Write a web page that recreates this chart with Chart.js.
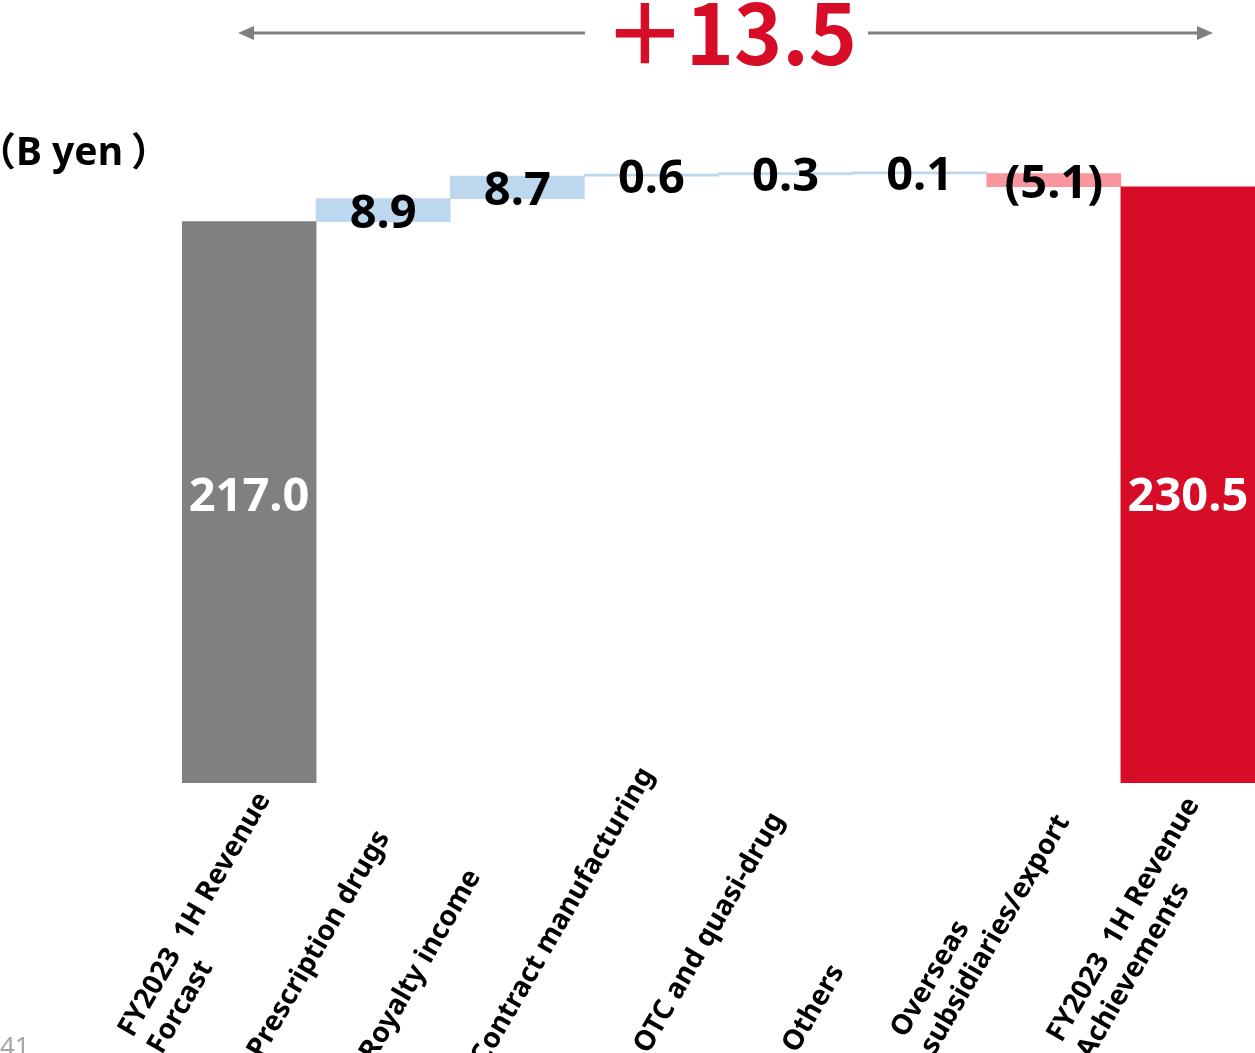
<!DOCTYPE html>
<html lang="en">
<head>
  <meta charset="UTF-8" />
  <title>Revenue bridge FY2023 1H</title>
  <meta name="viewport" content="width=device-width, initial-scale=1.0" />
  <script src="https://cdn.jsdelivr.net/npm/chart.js"></script>
  <style>
    body {
      margin: 0;
      padding: 0;
      background: #fff;
      overflow: hidden;
      font-family: 'Noto Sans', sans-serif;
      color: #000;
    }

    .lienzo {
      position: relative;
      width: 1255px;
      height: 1053px;
    }

    .lienzo canvas {
      position: absolute;
      left: 0;
      top: 0;
    }

    .unidad {
      position: absolute;
      left: -23px;
      top: 130px;
      font: 700 39px 'Noto Sans', 'Noto Sans CJK JP', sans-serif;
      line-height: 39px;
      white-space: pre;
    }

    .unidad .cierra {
      margin-left: 8px;
    }

    .pagina {
      position: absolute;
      left: 0;
      top: 1032px;
      font: 400 26px 'Noto Sans', sans-serif;
      line-height: 26px;
      color: #A6A6A6;
    }
  </style>
</head>
<body>
  <div class="lienzo">
    <canvas id="grafico" width="1255" height="1053"></canvas>
    <div class="unidad">（B yen<span class="cierra">）</span></div>
    <div class="pagina">41</div>
  </div>

  <script>
    const categorias = [
      ['FY2023  1H Revenue', 'Forcast'],
      ['Prescription drugs'],
      ['Royalty income'],
      ['Contract manufacturing'],
      ['OTC and quasi-drug'],
      ['Others'],
      ['Overseas', 'subsidiaries/export'],
      ['FY2023  1H Revenue', 'Achievements']
    ];
    const inicio = 217.0;
    const variaciones = [8.9, 8.7, 0.6, 0.3, 0.1, -5.1];
    const cierre = 230.5;
    const diferencia = 13.5;

    // tramos flotantes de la cascada
    const tramos = [[0, inicio]];
    let acumulado = inicio;
    variaciones.forEach(v => {
      const siguiente = Math.round((acumulado + v) * 10) / 10;
      tramos.push([acumulado, siguiente]);
      acumulado = siguiente;
    });
    tramos.push([0, cierre]);

    const valores = [inicio, ...variaciones, cierre];
    const etiquetas = valores.map(v => v < 0 ? '(' + Math.abs(v).toFixed(1) + ')' : v.toFixed(1));
    const ultimo = valores.length - 1;
    const colores = valores.map((v, i) => {
      if (i === 0) return '#808080';
      if (i === ultimo) return '#D70C27';
      return v < 0 ? '#F8959F' : '#BDD7EE';
    });

    // desplazamiento de cada etiqueta del eje (px)
    const ajusteEtiquetas = [[15, 12], [0, 50], [-43, 89], [-4, -13], [-8, 32], [-82, 184], [-91, 140], [5, 17]];

    const valoresBarras = {
      id: 'valoresBarras',
      afterDatasetsDraw(chart) {
        const ctx = chart.ctx;
        const escalaY = chart.scales.y;
        const meta = chart.getDatasetMeta(0);
        // los totales comparten altura
        const yTotales = escalaY.getPixelForValue((inicio + cierre) / 4);
        ctx.save();
        ctx.font = '700 47px "Noto Sans", sans-serif';
        ctx.textAlign = 'center';
        ctx.textBaseline = 'middle';
        meta.data.forEach((barra, i) => {
          const esTotal = i === 0 || i === ultimo;
          ctx.fillStyle = esTotal ? '#FFFFFF' : '#000000';
          const cy = esTotal ? yTotales : (barra.y + barra.base) / 2;
          ctx.fillText(etiquetas[i], barra.x, cy + 4);
        });
        ctx.restore();
      }
    };

    const ejeX = {
      id: 'ejeX',
      afterDraw(chart) {
        const { ctx, scales: { x, y } } = chart;
        const ang = 60 * Math.PI / 180;
        const base = y.getPixelForValue(0);
        ctx.save();
        ctx.font = '700 28px "Noto Sans", sans-serif';
        ctx.fillStyle = '#000';
        ctx.textBaseline = 'middle';
        ctx.textAlign = 'left';
        categorias.forEach((lineas, i) => {
          const [dx, dy] = ajusteEtiquetas[i];
          const w1 = ctx.measureText(lineas[0]).width;
          ctx.save();
          ctx.translate(x.getPixelForValue(i) + dx, base + dy);
          ctx.rotate(-ang);
          lineas.forEach((t, k) => ctx.fillText(t, -w1, k * 34));
          ctx.restore();
        });
        ctx.restore();
      }
    };

    const encabezado = {
      id: 'encabezado',
      afterDraw(chart) {
        const ctx = chart.ctx;
        ctx.save();
        ctx.strokeStyle = '#808080';
        ctx.fillStyle = '#808080';
        ctx.lineWidth = 3;
        ctx.beginPath();
        ctx.moveTo(250, 33); ctx.lineTo(585, 33);
        ctx.moveTo(868, 33); ctx.lineTo(1200, 33);
        ctx.stroke();
        ctx.beginPath();
        ctx.moveTo(238, 33); ctx.lineTo(254, 26); ctx.lineTo(254, 40); ctx.closePath();
        ctx.moveTo(1213, 33); ctx.lineTo(1197, 26); ctx.lineTo(1197, 40); ctx.closePath();
        ctx.fill();

        ctx.font = '700 84px "Liberation Sans Narrow", "Noto Sans CJK JP", sans-serif';
        const txt = '＋' + diferencia.toFixed(1);
        const w = ctx.measureText(txt).width;
        ctx.translate(604, 65);
        ctx.scale(253 / w, 1);
        ctx.fillStyle = '#D70C27';
        ctx.textAlign = 'left';
        ctx.textBaseline = 'alphabetic';
        ctx.fillText(txt, 0, 0);
        ctx.restore();
      }
    };

    new Chart(document.getElementById('grafico'), {
      type: 'bar',
      data: {
        labels: categorias,
        datasets: [{
          data: tramos,
          backgroundColor: colores,
          borderWidth: 0,
          barPercentage: 1,
          categoryPercentage: 1,
          minBarLength: 2
        }]
      },
      options: {
        responsive: false,
        animation: false,
        layout: { padding: { left: 182, right: 0, top: 7, bottom: 270 } },
        plugins: {
          legend: { display: false },
          tooltip: { enabled: false }
        },
        scales: {
          x: { display: false },
          y: { display: false, min: 0, max: 300 }
        }
      },
      plugins: [valoresBarras, ejeX, encabezado]
    });
  </script>
</body>
</html>
